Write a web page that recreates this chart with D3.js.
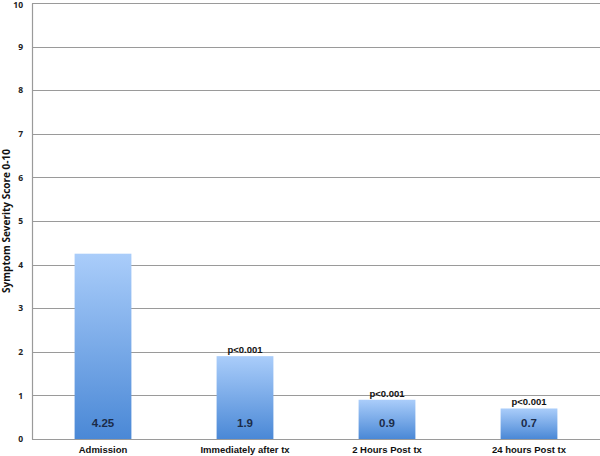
<!DOCTYPE html>
<html><head><meta charset="utf-8">
<script src="https://cdn.jsdelivr.net/npm/d3@7"></script>
<style>body{margin:0;background:#fff}</style>
</head><body>
<svg id="c" width="600" height="456"></svg>
<script>
const categories = ["Admission","Immediately after tx","2 Hours Post tx","24 hours Post tx"];
const values = [4.25, 1.9, 0.9, 0.7];
const valueLabels = ["4.25","1.9","0.9","0.7"];
const pLabels = ["","p<0.001","p<0.001","p<0.001"];
const yTicks = [0,1,2,3,4,5,6,7,8,9,10];

const svg = d3.select("#c");
const m = {l:32, r:0, t:3, b:17};
const W = 600, H = 456;
const x = d3.scaleBand().domain(categories).range([m.l, W-m.r]).paddingInner(0.6).paddingOuter(0.3);
const y = d3.scaleLinear().domain([0,10]).range([H-m.b, m.t]);

const defs = svg.append("defs");
const g = defs.append("linearGradient").attr("id","bg").attr("x1",0).attr("y1",0).attr("x2",0).attr("y2",1);
g.append("stop").attr("offset","0%").attr("stop-color","#aacdfa");
g.append("stop").attr("offset","100%").attr("stop-color","#4a88d6");

// gridlines
svg.append("g").selectAll("line").data(yTicks).join("line")
  .attr("x1", m.l).attr("x2", W-m.r)
  .attr("y1", d=>Math.round(y(d))+0.5).attr("y2", d=>Math.round(y(d))+0.5)
  .attr("stroke","#9a9a9a").attr("stroke-width",1.2);

// y axis
const ya = d3.axisLeft(y).tickValues(yTicks).tickSize(0).tickPadding(9).tickFormat(d3.format("d"));
const yg = svg.append("g").attr("transform",`translate(${m.l},0)`).call(ya);
yg.select(".domain").attr("stroke","#9a9a9a").attr("stroke-width",1.2);
yg.selectAll("text").attr("font-family","Open Sans, sans-serif").attr("font-weight","bold").attr("font-size",8.5).attr("fill","#222")
  .attr("dy", d => d === 10 ? "0.55em" : "0.32em");

// bars
svg.append("g").selectAll("rect").data(values).join("rect")
  .attr("x",(d,i)=>x(categories[i])).attr("width",x.bandwidth())
  .attr("y",d=>y(d)).attr("height",d=>y(0)-y(d))
  .attr("fill","url(#bg)");

// value labels
svg.append("g").selectAll("text").data(valueLabels).join("text")
  .attr("x",(d,i)=>x(categories[i])+x.bandwidth()/2).attr("y",y(0)-12)
  .attr("text-anchor","middle").attr("font-family","Liberation Sans, Arial, sans-serif")
  .attr("font-weight","bold").attr("font-size",11.5).attr("fill","#1b2b48").text(d=>d);

// p labels
svg.append("g").selectAll("text").data(pLabels).join("text")
  .attr("x",(d,i)=>x(categories[i])+x.bandwidth()/2).attr("y",(d,i)=>y(values[i])-3)
  .attr("text-anchor","middle").attr("font-family","Liberation Sans, Arial, sans-serif")
  .attr("font-weight","bold").attr("font-size",9.5).attr("fill","#111").text(d=>d);

// x axis labels
const xa = d3.axisBottom(x).tickSize(0).tickPadding(7);
const xg = svg.append("g").attr("transform",`translate(0,${y(0)})`).call(xa);
xg.select(".domain").remove();
xg.selectAll("text").attr("font-family","Liberation Sans, Arial, sans-serif").attr("font-weight","bold").attr("font-size",9.5).attr("fill","#111");

// y title
svg.append("text").attr("transform",`translate(9.5,221) rotate(-90)`)
  .attr("text-anchor","middle").attr("font-family","Open Sans, sans-serif")
  .attr("font-weight","bold").attr("font-size",10).attr("fill","#111")
  .text("Symptom Severity Score 0-10");
</script>
</body></html>
